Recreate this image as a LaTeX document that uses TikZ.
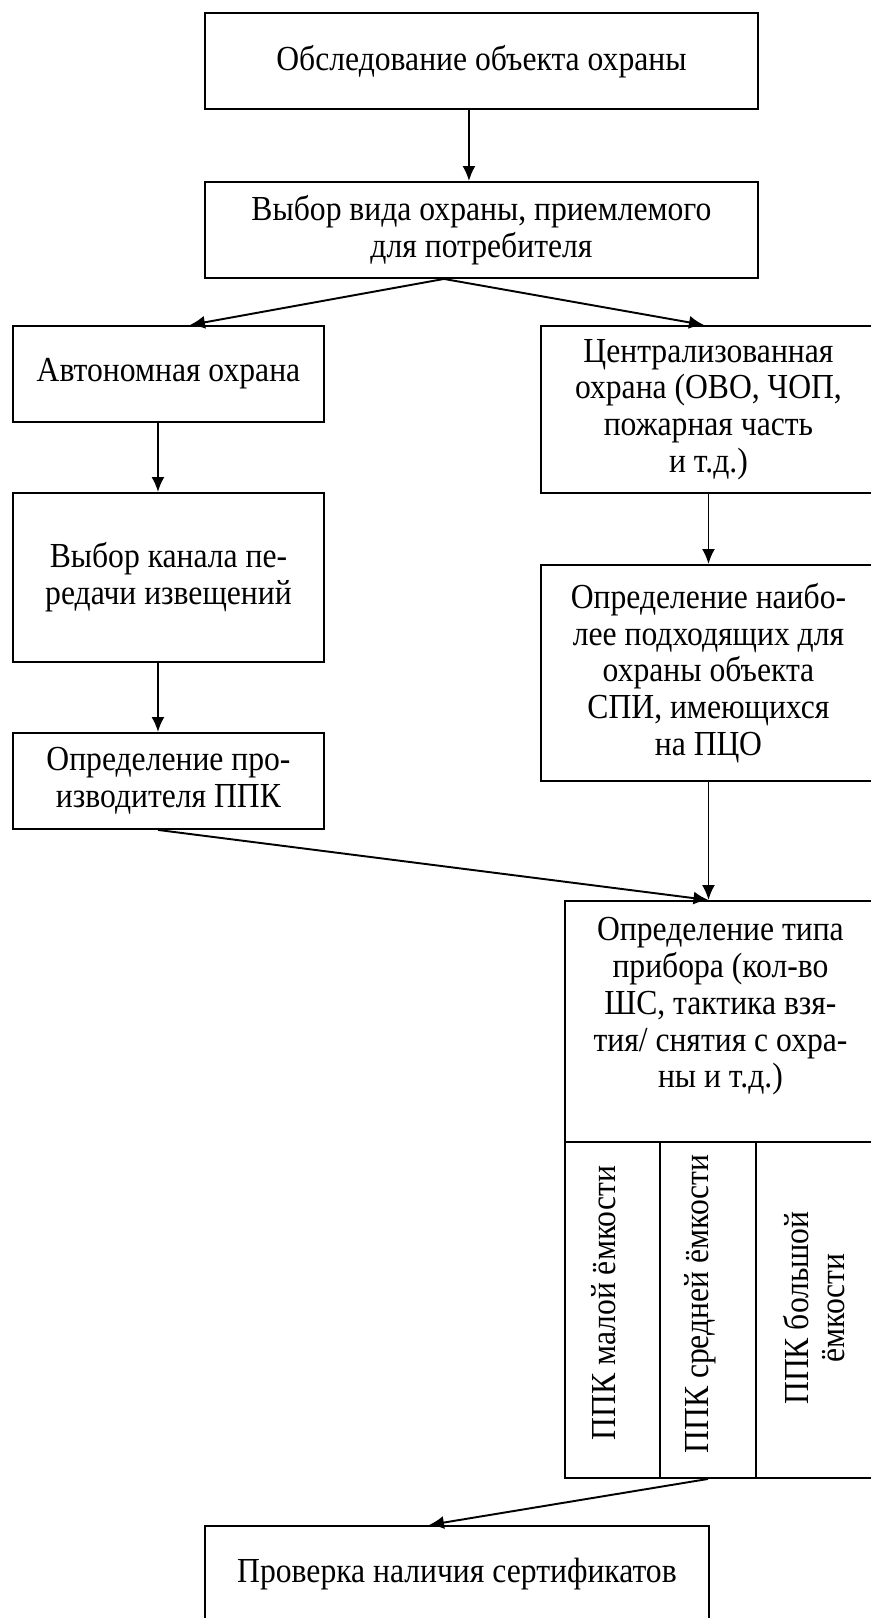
\documentclass[tikz,border=0pt]{standalone}
\usepackage{fontspec}
\setmainfont{Liberation Serif}[FakeStretch=0.9]
\usetikzlibrary{arrows.meta}

\begin{document}
\begin{tikzpicture}[x=1cm,y=1cm,
  blok/.style={draw,line width=1.1pt,anchor=north west,align=center,inner sep=2pt,font=\fontsize{20}{20.9}\selectfont},
  tekst/.style={align=center,inner sep=0pt,font=\fontsize{20}{20.9}\selectfont},
  strelka/.style={-{Latex[length=0.3cm,width=0.26cm]},line width=1.1pt}]
\path[use as bounding box] (0,0) rectangle (17.42,-32.36);

% Начало - обследование и выбор вида охраны
\node[blok,minimum width=11.06cm,minimum height=1.91cm] (obsled) at (4.08,-0.25) {Обследование объекта охраны};
\node[blok,minimum width=11.06cm,minimum height=1.92cm] (vybor) at (4.08,-3.62) {Выбор вида охраны, приемлемого\\для потребителя};

% Левая ветвь - автономная охрана
\node[blok,minimum width=6.22cm,minimum height=1.92cm] (avtonom) at (0.24,-6.50) {Автономная охрана};
\node[blok,minimum width=6.22cm,minimum height=3.38cm] (kanal) at (0.24,-9.84) {Выбор канала пе-\\редачи извещений};
\node[blok,minimum width=6.22cm,minimum height=1.92cm] (proizv) at (0.24,-14.64) {Определение про-\\изводителя ППК};

% Правая ветвь - централизованная охрана
\node[blok,minimum width=6.70cm,minimum height=3.34cm] (central) at (10.80,-6.50) {Централизованная\\охрана (ОВО, ЧОП,\\пожарная часть\\и т.д.)};
\node[blok,minimum width=6.70cm,minimum height=4.32cm] (spi) at (10.80,-11.28) {Определение наибо-\\лее подходящих для\\охраны объекта\\СПИ, имеющихся\\на ПЦО};

% Тип прибора и ёмкость ППК
\node[blok,minimum width=6.22cm,minimum height=4.82cm] (tip) at (11.28,-18.00) {};
\node[tekst] (tiptekst) at ([yshift=0.3cm]tip.center) {Определение типа\\прибора (кол-во\\ШС, тактика взя-\\тия/ снятия с охра-\\ны и т.д.)};
\node[blok,minimum width=6.22cm,minimum height=6.72cm] (emkost) at (11.28,-22.82) {};
\draw[line width=1.1pt] ([xshift=1.92cm]emkost.north west) -- ([xshift=1.92cm]emkost.south west);
\draw[line width=1.1pt] ([xshift=3.84cm]emkost.north west) -- ([xshift=3.84cm]emkost.south west);
\node[tekst,rotate=90] (malaya) at (12.07,-26.06) {ППК малой ёмкости};
\node[tekst,rotate=90] (srednyaya) at (14.00,-26.08) {ППК средней ёмкости};
\node[tekst,rotate=90] (bolshaya) at (16.28,-26.16) {ППК большой\\ёмкости};

% Конец - сертификаты
\node[blok,minimum width=10.08cm,minimum height=1.92cm] (sert) at (4.08,-30.50) {Проверка наличия сертификатов};

% Стрелки
\draw[strelka] ([xshift=-0.25cm]obsled.south) -- ([xshift=-0.25cm]vybor.north);
\coordinate (razvilka) at ([xshift=-0.75cm]vybor.south);
\draw[strelka] (razvilka) -- ([xshift=0.43cm]avtonom.north);
\draw[strelka] (razvilka) -- ([xshift=-0.09cm]central.north);
\draw[strelka] ([xshift=-0.21cm]avtonom.south) -- ([xshift=-0.21cm]kanal.north);
\draw[strelka] ([xshift=-0.21cm]kanal.south) -- ([xshift=-0.21cm]proizv.north);
\draw[strelka] (central.south) -- (spi.north);
\coordinate (vhod) at (spi.south |- tip.north);
\draw[strelka] (spi.south) -- (vhod);
\draw[strelka] ([xshift=-0.21cm]proizv.south) -- (vhod);
\draw[strelka] ([xshift=2.88cm]emkost.south west) -- ([xshift=-0.56cm]sert.north);
\end{tikzpicture}
\end{document}
